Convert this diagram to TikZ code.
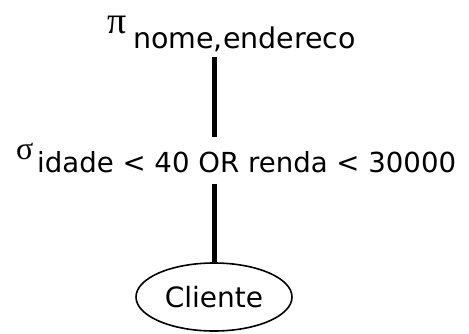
\documentclass[tikz,border=0pt]{standalone}
\usepackage{fontspec}
\setmainfont{DejaVu Sans}
\newfontfamily\greekfont{Liberation Serif}
\usetikzlibrary{shapes.geometric}
\tikzset{
    optext/.style={anchor=base west, inner sep=0pt, font=\fontsize{28.5}{30}\selectfont},
    opsym/.style={anchor=base west, inner sep=0pt, font=\greekfont\fontsize{38}{40}\selectfont},
    edge/.style={line width=5pt},
    relation/.style={ellipse, draw, line width=1.6pt, minimum width=156pt, minimum height=68pt, inner sep=0pt, font=\fontsize{28}{30}\selectfont},
}

\begin{document}
\begin{tikzpicture}[x=1pt,y=-1pt]
\useasboundingbox (0,0) rectangle (469,333);

\node[opsym] (projsym) at (107,33) {π};
\node[optext] (projattr) at (133,48) {nome,endereco};
\node[opsym, font=\greekfont\fontsize{32}{34}\selectfont] (selsym) at (16,159) {σ};
\node[optext, font=\fontsize{27.6}{30}\selectfont] (selattr) at (37,172) {idade < 40 OR renda < 30000};
\node[relation] (rel) at (214,297) {Cliente};

\draw[edge] ([yshift=-5.5pt]projattr.south -| rel.north) -- ([yshift=14pt]selattr.north -| rel.north);
\draw[edge] ([yshift=-11pt]selattr.south -| rel.north) -- (rel.north);
\end{tikzpicture}
\end{document}
